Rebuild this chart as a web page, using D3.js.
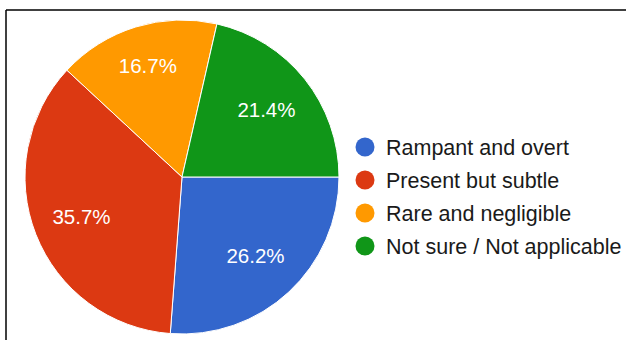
<!DOCTYPE html>
<html>
<head>
<meta charset="utf-8">
<script src="https://cdn.jsdelivr.net/npm/d3@7"></script>
<style>
  body { margin: 0; background: #fff; }
  svg { display: block; font-family: "Liberation Sans", Arial, sans-serif; }
</style>
</head>
<body>
<div id="chart"></div>
<script>
// responses (counts out of 42)
let categories = ["Rampant and overt", "Present but subtle", "Rare and negligible", "Not sure / Not applicable"];
let counts = [11, 15, 7, 9];
let colors = ["#3366cc", "#dc3912", "#ff9900", "#109618"];

let width = 626, height = 340;
let cx = 182, cy = 177, radius = 157;

let svg = d3.select("#chart").append("svg")
    .attr("width", width)
    .attr("height", height);

// frame (top + left edges only)
svg.append("line")
    .attr("x1", 6).attr("y1", 10).attr("x2", width).attr("y2", 10)
    .attr("stroke", "#000").attr("stroke-width", 1.5);
svg.append("line")
    .attr("x1", 6).attr("y1", 10).attr("x2", 6).attr("y2", height)
    .attr("stroke", "#000").attr("stroke-width", 1.5);

let data = categories.map((c, i) => ({name: c, value: counts[i], color: colors[i]}));
let total = d3.sum(counts);

// google style: first slice starts at 3 o'clock, clockwise
let pie = d3.pie()
    .value(d => d.value)
    .sort(null)
    .startAngle(Math.PI / 2)
    .endAngle(Math.PI / 2 + 2 * Math.PI);

let arc = d3.arc().innerRadius(0).outerRadius(radius);

let g = svg.append("g")
    .attr("transform", `translate(${cx}, ${cy})`);

let arcs = pie(data);

g.selectAll(".slice")
    .data(arcs)
    .enter()
    .append("path")
    .attr("class", "slice")
    .attr("d", arc)
    .attr("fill", d => d.data.color)
    .attr("stroke", "#fff")
    .attr("stroke-width", 1);

// labels sit a bit further out in narrow slices
let labelR = d => (d.endAngle - d.startAngle < 1.1 ? 116 : 108);

g.selectAll(".label")
    .data(arcs)
    .enter()
    .append("text")
    .attr("class", "label")
    .attr("transform", d => {
        let a = (d.startAngle + d.endAngle) / 2;
        let r = labelR(d);
        return `translate(${r * Math.sin(a)}, ${-r * Math.cos(a)})`;
    })
    .attr("text-anchor", "middle")
    .attr("dy", "0.35em")
    .attr("fill", "#fff")
    .style("font-size", "20.5px")
    .text(d => (d.data.value / total * 100).toFixed(1) + "%");

// legend
let legend = svg.append("g")
    .attr("transform", "translate(365, 147)");

let rows = legend.selectAll(".row")
    .data(data)
    .enter()
    .append("g")
    .attr("class", "row")
    .attr("transform", (d, i) => `translate(0, ${i * 33})`);

rows.append("circle")
    .attr("r", 9.5)
    .attr("fill", d => d.color);

rows.append("text")
    .attr("x", 21)
    .attr("dy", "0.35em")
    .attr("fill", "#1a1a1a")
    .style("font-size", "21.5px")
    .text(d => d.name);
</script>
</body>
</html>
